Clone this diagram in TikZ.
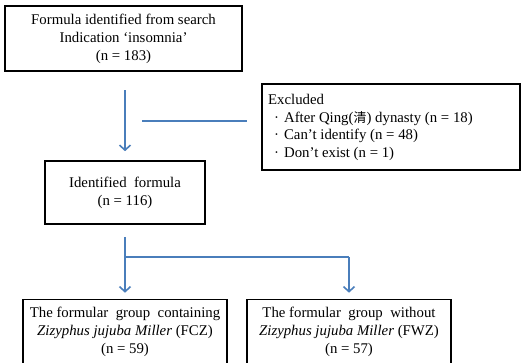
\documentclass[tikz,border=0pt]{standalone}
\usepackage{fontspec}
\setmainfont{Liberation Serif}
\newfontfamily\cjkfont{Noto Sans CJK SC}
\usetikzlibrary{arrows.meta}
\definecolor{flowblue}{HTML}{4A7EBB}
\newcommand{\boxfont}{\fontsize{14.8}{18}\selectfont}
\tikzset{
  box/.style={draw=black, line width=1.6pt, fill=white, inner sep=0pt,
    align=center, font=\boxfont},
  flow/.style={draw=flowblue, line width=1.8pt},
  flowarrow/.style={flow, -{Straight Barb[length=5pt,width=11pt,line width=1.6pt]}},
}
\begin{document}
\begin{tikzpicture}[x=1pt,y=-1pt]
  \useasboundingbox (0,0) rectangle (521,362);
  \clip (0,0) rectangle (521,362);

  % boxes
  \node[box, minimum width=237pt, minimum height=65pt] (search) at (123.5,38.5)
    {Formula identified from search\\Indication ‘insomnia’\\(n = 183)};
  \node[box, minimum width=258pt, minimum height=86pt] (excl) at (391,127) {};
  \node[font=\fontsize{14.8}{17.6}\selectfont, align=left, anchor=north west, inner sep=0pt] (excltext) at (268,94)
    {Excluded\\
     \hspace*{6pt}·\hspace{5pt}After Qing({\cjkfont\fontsize{13}{13}\selectfont 清}) dynasty (n = 18)\\
     \hspace*{6pt}·\hspace{5pt}Can’t identify (n = 48)\\
     \hspace*{6pt}·\hspace{5pt}Don’t exist (n = 1)};
  \node[box, minimum width=160pt, minimum height=63pt] (ident) at (125,192.5)
    {Identified\ \ formula\\(n = 116)};
  \node[box, minimum width=204pt, minimum height=65pt] (fcz) at (125,332)
    {The formular\ \ group\ \ containing\\\textit{Zizyphus jujuba Miller} (FCZ)\\(n = 59)};
  \node[box, minimum width=204pt, minimum height=65pt] (fwz) at (349,332)
    {The formular\ \ group\ \ without\\\textit{Zizyphus jujuba Miller} (FWZ)\\(n = 57)};

  % connectors
  \coordinate (start1) at (125,90);
  \coordinate (exclA) at (142,121);
  \coordinate (exclB) at (247,121);
  \coordinate (split) at (125,257);
  \coordinate (corner) at (349,257);

  \draw[flowarrow] (start1) -- ([yshift=9pt]ident.north);
  \draw[flow] (exclA) -- (exclB);
  \draw[flowarrow] ([yshift=-12pt]ident.south) -- ([yshift=6pt]fcz.north);
  \draw[flow] (split) -- (corner);
  \draw[flowarrow] (corner) -- ([yshift=6pt]fwz.north);
\end{tikzpicture}
\end{document}
